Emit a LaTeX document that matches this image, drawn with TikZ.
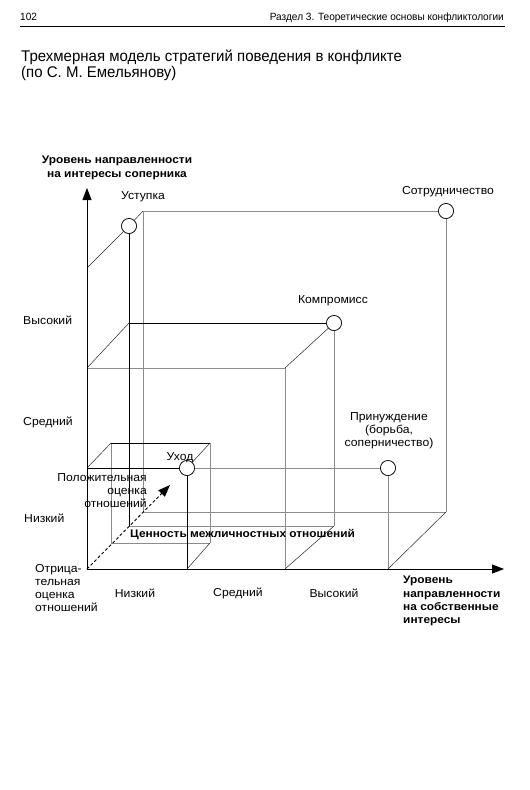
\documentclass[tikz,border=0pt]{standalone}
\usepackage{fontspec}
\setmainfont{Liberation Sans}
\usetikzlibrary{arrows.meta}
\newfontfamily\labfam[FakeStretch=1.06]{Liberation Sans}
\newfontfamily\blabfam[FakeStretch=1.08]{Liberation Sans Bold}
\newfontfamily\titlefam[FakeStretch=0.968]{Liberation Sans}
\newfontfamily\headfam[FakeStretch=0.96]{Liberation Sans}
\newcommand\LabFont{\labfam\fontsize{11.5}{13}\selectfont}
\newcommand\BoldLabFont{\blabfam\fontsize{11}{13.3}\selectfont}
\newcommand\TitleFont{\titlefam\fontsize{15.5}{16}\selectfont}
\newcommand\HeadFont{\headfam\fontsize{10.5}{12}\selectfont}
\tikzset{
  inkline/.style={line width=0.6pt, black},
  greyline/.style={line width=1pt, black!45},
  diagline/.style={line width=0.5pt, black!85},
  axisline/.style={line width=0.8pt, black, -{Triangle[length=12pt,width=9pt]}},
  dotnode/.style={circle, draw=black, line width=0.6pt, fill=white, minimum size=15pt, inner sep=0pt},
  lab/.style={font=\LabFont, inner sep=0pt},
  blab/.style={font=\BoldLabFont, inner sep=0pt},
}
\begin{document}
\begin{tikzpicture}[x=1pt,y=-1pt]
\useasboundingbox (0,0) rectangle (530,790);
\fill[white] (0,0) rectangle (530,790);

% header
\node[font=\HeadFont, inner sep=0pt, anchor=base west] (pagenum) at (20,20) {102};
\node[font=\HeadFont, inner sep=0pt, anchor=base east] (runhead) at (504,20) {Раздел 3. Теоретические основы конфликтологии};
\coordinate (ruleL) at (20,26);
\coordinate (ruleR) at (505,26);
\draw[line width=0.8pt] (ruleL) -- (ruleR);

% title
\node[font=\TitleFont, inner sep=0pt, anchor=base west] (title1) at (21,61) {Трехмерная модель стратегий поведения в конфликте};
\node[font=\TitleFont, inner sep=0pt, anchor=base west] (title2) at (21,77) {(по С. М. Емельянову)};

% coordinates
\coordinate (O) at (87,569);
\coordinate (Ytip) at (87,188);
\coordinate (Xtip) at (504,569);
\coordinate (Ztip) at (170,485);
% small box
\coordinate (s1) at (87,468);
\coordinate (s3) at (187,569);
\coordinate (sb1) at (111,443);
\coordinate (sb2) at (210,443);
\coordinate (sb3) at (210,543);
\coordinate (sb4) at (111,543);
% medium box
\coordinate (m1) at (87,368);
\coordinate (m2) at (285,368);
\coordinate (m3) at (285,569);
\coordinate (mb1) at (129,323);
\coordinate (mb3) at (334,526);
\coordinate (mb4) at (129,526);
% big box
\coordinate (b1) at (87,268);
\coordinate (bb1) at (143,211);
\coordinate (bb3) at (446,512);
\coordinate (bb4) at (143,512);
\coordinate (b3) at (388,569);

% strategy points
\node[dotnode] (uhod) at (187,468) {};
\node[dotnode] (ustup) at (129,226) {};
\node[dotnode] (komp) at (334,323) {};
\node[dotnode] (sotr) at (446,211) {};
\node[dotnode] (prin) at (388,468) {};

% grey lines
\draw[greyline] (bb1) -- (sotr);
\draw[greyline] (sotr) -- (bb3);
\draw[greyline] (bb4) -- (bb3);
\draw[greyline] (bb1) -- (bb4);
\draw[greyline] (prin) -- (b3);
\draw[greyline] (m1) -- (m2);
\draw[greyline] (m2) -- (m3);
\draw[greyline] (komp) -- (mb3);
\draw[greyline] (mb4) -- (mb3);
\draw[greyline] (sb2) -- (sb3);
\draw[greyline] (sb4) -- (sb3);
\draw[greyline] (sb1) -- (sb4);
\draw[greyline] (uhod) -- (prin);

% dark lines
\draw[diagline] (b1) -- (ustup);
\draw[diagline] (ustup) -- (bb1);
\draw[diagline] (b3) -- (bb3);
\draw[inkline] (ustup) -- (mb4);
\draw[diagline] (m1) -- (mb1);
\draw[inkline] (mb1) -- (komp);
\draw[diagline] (m2) -- (komp);
\draw[diagline] (m3) -- (mb3);
\draw[inkline] (s1) -- (uhod);
\draw[inkline] (uhod) -- (s3);
\draw[diagline] (s1) -- (sb1);
\draw[inkline] (sb1) -- (sb2);
\draw[diagline] (uhod) -- (sb2);
\draw[diagline] (s3) -- (sb3);

% axes
\draw[axisline] (O) -- (Ytip);
\draw[axisline] (O) -- (Xtip);
\draw[line width=0.9pt, dash pattern=on 3pt off 2.2pt, -{Triangle[length=12pt,width=9pt]}] (O) -- (Ztip);

% redraw circles on top
\node[dotnode] at (uhod) {};
\node[dotnode] at (ustup) {};
\node[dotnode] at (komp) {};
\node[dotnode] at (sotr) {};
\node[dotnode] at (prin) {};

% labels
\node[blab, align=center] (ylab) at (117,168) {Уровень направленности\\ на интересы соперника};
\node[lab] (lustup) at (143,197) {Уступка};
\node[lab] (lsotr) at (448,192) {Сотрудничество};
\node[lab] (lkomp) at (333,301) {Компромисс};
\node[lab, align=center] (lprin) at (389,431) {Принуждение\\(борьба,\\соперничество)};
\node[lab] (luhod) at (180,458) {Уход};
\node[lab, anchor=west] (yhigh) at (23,320) {Высокий};
\node[lab, anchor=west] (ymid) at (23,422) {Средний};
\node[lab, anchor=west] (ylow) at (24,518) {Низкий};
\node[lab, align=right, anchor=east] (lpos) at (147,491) {Положительная\\оценка\\отношений};
\node[blab, anchor=west] (zlab) at (130,534) {Ценность межличностных отношений};
\node[lab, align=left, anchor=west] (lneg) at (35,588) {Отрица-\\тельная\\оценка\\отношений};
\node[lab] (xlow) at (135,593) {Низкий};
\node[lab] (xmid) at (238,593) {Средний};
\node[lab] (xhigh) at (334,593) {Высокий};
\node[blab, align=left, anchor=west] (xlab) at (403,601) {Уровень\\направленности\\на собственные\\интересы};
\end{tikzpicture}
\end{document}
